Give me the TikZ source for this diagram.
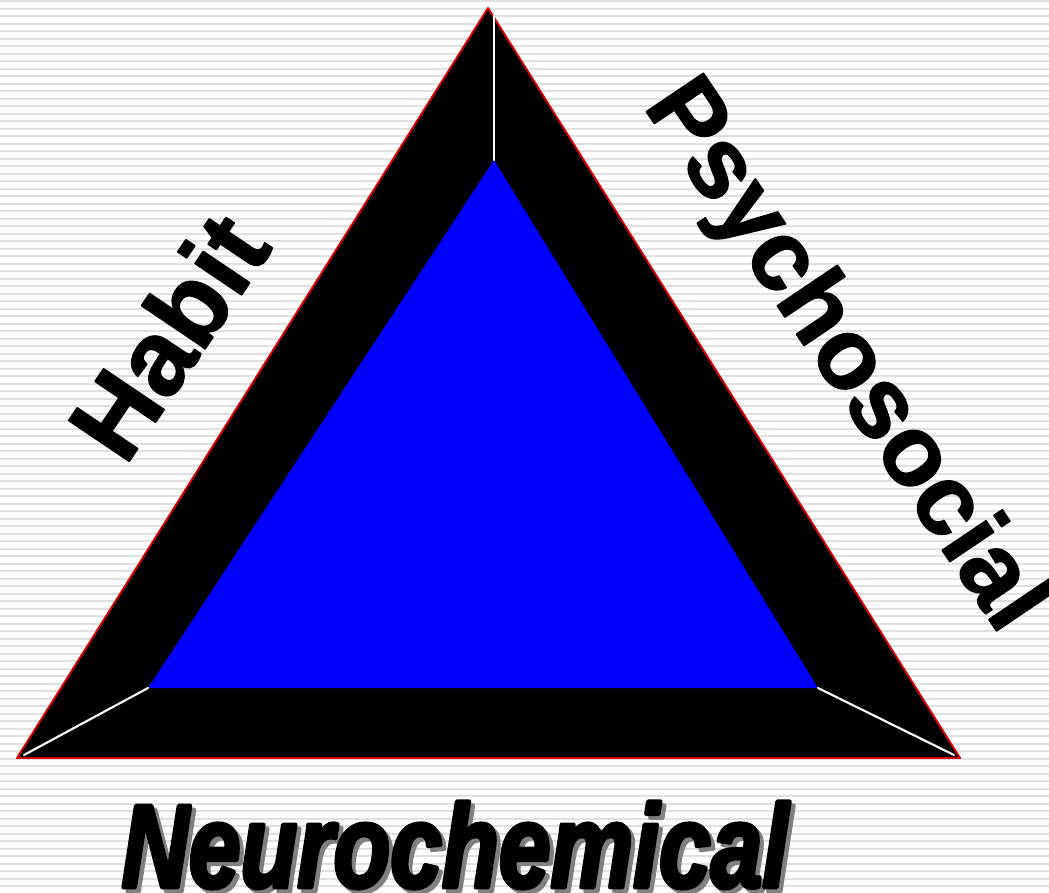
\documentclass[tikz,border=0pt]{standalone}
\usepackage{fontspec}
\usepackage{tikz}
\newfontfamily\sidefont{Liberation Sans}[BoldFeatures={FakeBold=1.5}]
\newfontfamily\heavyfont{Liberation Sans}[BoldItalicFeatures={FakeBold=4}]

\begin{document}
\begin{tikzpicture}[
			x=0.02cm, y=-0.02cm,
			every node/.style={inner sep=0pt},
			line cap=round,
			line join=round,
			stripe/.style={fill=black!12},
			sidelabel/.style={font=\sidefont\bfseries\fontsize{57}{57}\selectfont},
			baselabel/.style={font=\heavyfont\bfseries\itshape\fontsize{67}{67}\selectfont, xscale=0.79}
			]
			\useasboundingbox (0,0) rectangle (1049,893);
			
			% striped background
			\fill[white] (0,0) rectangle (1049,893);
			\foreach \y in {0,7.5,...,892}
			{
				\fill[stripe] (0,\y) rectangle (1049,\y+2.2);
			}
			
			% corners
			\coordinate (outerleft) at (17,758);
			\coordinate (outertop) at (488,8);
			\coordinate (outerright) at (960,758);
			\coordinate (innerleft) at (148,688);
			\coordinate (innertop) at (494,160);
			\coordinate (innerright) at (818,688);
			\coordinate (markleft) at (24,755);
			\coordinate (marktop) at (494,16);
			\coordinate (markright) at (954,755);
			
			% triangle
			\draw[red!85!black, line width=1.1pt, fill=black] (outerleft) -- (outertop) -- (outerright) -- cycle;
			\fill[blue] (innerleft) -- (innertop) -- (innerright) -- cycle;
			
			\draw[white, line width=1.2pt] (marktop) -- (innertop);
			\draw[white, line width=1.2pt] (markleft) -- (innerleft);
			\draw[white, line width=1.2pt] (markright) -- (innerright);
			
			% labels
			\node[sidelabel, rotate=56, scale=1.06] (habit) at (168,336) {Habit};
			\node[sidelabel, rotate=-56] (psycho) at (843,357) {Psychosocial};
			
			\node[baselabel, text=black!50] (baseshadow) at (459,849) {Neurochemical};
			\node[baselabel] (base) at (455,845) {Neurochemical};
		\end{tikzpicture}
\end{document}
